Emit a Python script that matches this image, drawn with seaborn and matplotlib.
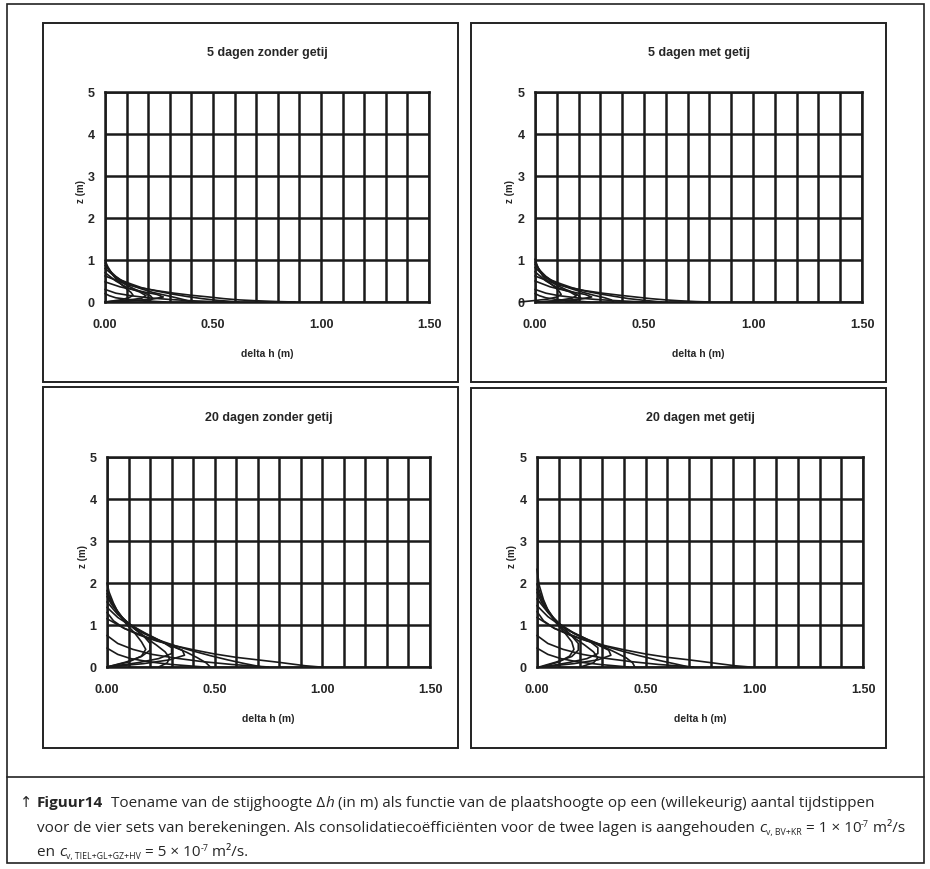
import numpy as np
import pandas as pd
import matplotlib
matplotlib.use("Agg")
import matplotlib.pyplot as plt
from matplotlib.patches import Rectangle
from matplotlib.lines import Line2D
import seaborn as sns

# panel titles
titles = ["5 dagen zonder getij", "5 dagen met getij", "20 dagen zonder getij", "20 dagen met getij"]

# isochrones: heights z (m) and head rise delta h (m), one list per curve
z_5_zonder = [
    [0, 0.01, 0.03, 0.05, 0.08, 0.12, 0.16, 0.21, 0.27, 0.34, 0.42, 0.52, 0.62],
    [0, 0.04, 0.08, 0.13, 0.19, 0.26, 0.34, 0.43, 0.53, 0.65, 0.8],
    [0, 0.05, 0.1, 0.16, 0.23, 0.31, 0.4, 0.5, 0.61, 0.73, 0.87],
    [0, 0.04, 0.09, 0.15, 0.22, 0.3, 0.4, 0.5, 0.62, 0.76, 0.93],
    [0, 0.05, 0.1, 0.16, 0.23, 0.31, 0.42, 0.55, 0.68, 0.84, 0.99],
    [0, 0.03, 0.06, 0.1, 0.15, 0.21, 0.3],
    [0, 0.03, 0.06, 0.1, 0.15, 0.2],
    [0, 0.04, 0.09, 0.15, 0.24, 0.35, 0.5, 0.7],
    [0, 0.03, 0.07, 0.12, 0.18, 0.26, 0.36, 0.48],
]
dh_5_zonder = [
    [0.88, 0.8, 0.7, 0.62, 0.55, 0.48, 0.4, 0.32, 0.24, 0.16, 0.1, 0.05, 0],
    [0.62, 0.52, 0.45, 0.38, 0.31, 0.24, 0.17, 0.12, 0.07, 0.035, 0],
    [0.4, 0.37, 0.33, 0.28, 0.22, 0.17, 0.12, 0.08, 0.05, 0.025, 0],
    [0.18, 0.21, 0.22, 0.21, 0.18, 0.14, 0.1, 0.07, 0.04, 0.02, 0],
    [0, 0.07, 0.11, 0.13, 0.12, 0.1, 0.075, 0.05, 0.032, 0.013, 0],
    [0.55, 0.4, 0.3, 0.2, 0.12, 0.05, 0],
    [0.28, 0.18, 0.11, 0.05, 0.02, 0],
    [0, 0.1, 0.17, 0.19, 0.16, 0.1, 0.05, 0],
    [0, 0.12, 0.22, 0.27, 0.24, 0.16, 0.07, 0],
]

z_5_met = [
    [0, 0.01, 0.03, 0.05, 0.08, 0.12, 0.16, 0.21, 0.27, 0.34, 0.42, 0.52, 0.62],
    [0, 0.04, 0.08, 0.13, 0.19, 0.26, 0.34, 0.43, 0.53, 0.65, 0.82],
    [0, 0.05, 0.1, 0.16, 0.23, 0.31, 0.4, 0.5, 0.61, 0.74, 0.9],
    [0, 0.04, 0.09, 0.15, 0.22, 0.3, 0.4, 0.5, 0.62, 0.77, 0.95],
    [0, 0.03, 0.07, 0.12, 0.18, 0.26, 0.36, 0.48, 0.62, 0.8, 1.02],
    [0, 0.03, 0.06, 0.1, 0.15, 0.21, 0.3],
    [0, 0.03, 0.06, 0.1, 0.15, 0.2],
    [0, 0.04, 0.09, 0.15, 0.24, 0.35, 0.5, 0.72],
    [0, 0.03, 0.07, 0.12, 0.18, 0.26, 0.36, 0.5],
]
dh_5_met = [
    [0.8, 0.74, 0.66, 0.6, 0.53, 0.46, 0.39, 0.31, 0.23, 0.16, 0.1, 0.05, 0],
    [0.58, 0.5, 0.43, 0.37, 0.3, 0.23, 0.17, 0.12, 0.07, 0.035, 0],
    [0.36, 0.35, 0.32, 0.27, 0.22, 0.17, 0.12, 0.08, 0.05, 0.025, 0],
    [0.14, 0.19, 0.21, 0.2, 0.18, 0.14, 0.1, 0.07, 0.04, 0.02, 0],
    [-0.07, -0.01, 0.06, 0.1, 0.12, 0.11, 0.09, 0.06, 0.035, 0.015, 0],
    [0.5, 0.38, 0.28, 0.19, 0.11, 0.05, 0],
    [0.25, 0.17, 0.1, 0.05, 0.02, 0],
    [0.02, 0.11, 0.17, 0.19, 0.16, 0.1, 0.05, 0],
    [0.01, 0.12, 0.21, 0.26, 0.23, 0.15, 0.07, 0],
]

z_20_zonder = [
    [0, 0.03, 0.07, 0.11, 0.17, 0.23, 0.31, 0.4, 0.5, 0.62, 0.76, 0.92, 1.1, 1.3],
    [0, 0.08, 0.17, 0.27, 0.38, 0.5, 0.64, 0.8, 0.98, 1.18, 1.42],
    [0, 0.1, 0.22, 0.35, 0.5, 0.66, 0.84, 1.04, 1.26, 1.5, 1.68],
    [0, 0.1, 0.22, 0.36, 0.52, 0.7, 0.9, 1.12, 1.36, 1.6, 1.82],
    [0, 0.12, 0.26, 0.42, 0.6, 0.8, 1.02, 1.26, 1.52, 1.78, 2.0],
    [0, 0.06, 0.13, 0.21, 0.3, 0.42, 0.56, 0.75],
    [0, 0.06, 0.12, 0.2, 0.3, 0.45],
    [0, 0.1, 0.2, 0.32, 0.46, 0.62, 0.8, 1.0, 1.25, 1.55],
    [0, 0.12, 0.25, 0.4, 0.56, 0.74, 0.94, 1.18, 1.45, 1.75],
    [0, 0.08, 0.17, 0.28, 0.4, 0.55, 0.72, 0.92, 1.15],
]
dh_20_zonder = [
    [0.99, 0.92, 0.86, 0.8, 0.7, 0.6, 0.5, 0.41, 0.32, 0.23, 0.15, 0.08, 0.03, 0],
    [0.72, 0.64, 0.56, 0.48, 0.4, 0.32, 0.24, 0.17, 0.11, 0.05, 0],
    [0.48, 0.46, 0.42, 0.37, 0.3, 0.23, 0.16, 0.1, 0.055, 0.02, 0],
    [0.24, 0.28, 0.29, 0.27, 0.23, 0.18, 0.13, 0.08, 0.045, 0.018, 0],
    [0, 0.1, 0.16, 0.18, 0.16, 0.13, 0.09, 0.055, 0.03, 0.01, 0],
    [0.75, 0.58, 0.44, 0.32, 0.21, 0.12, 0.05, 0],
    [0.45, 0.3, 0.2, 0.11, 0.05, 0],
    [0, 0.14, 0.24, 0.3, 0.3, 0.25, 0.18, 0.11, 0.05, 0],
    [0, 0.09, 0.16, 0.2, 0.2, 0.17, 0.12, 0.07, 0.03, 0],
    [0, 0.17, 0.29, 0.36, 0.35, 0.28, 0.18, 0.08, 0],
]

z_20_met = [
    [0, 0.03, 0.07, 0.11, 0.17, 0.23, 0.31, 0.4, 0.5, 0.62, 0.76, 0.92, 1.1, 1.32],
    [0, 0.08, 0.17, 0.27, 0.38, 0.5, 0.64, 0.8, 0.98, 1.2, 1.46],
    [0, 0.1, 0.22, 0.35, 0.5, 0.66, 0.84, 1.04, 1.28, 1.55, 1.78],
    [0, 0.1, 0.22, 0.36, 0.52, 0.7, 0.9, 1.14, 1.4, 1.7, 1.98],
    [0, 0.12, 0.26, 0.42, 0.6, 0.8, 1.04, 1.3, 1.6, 1.95, 2.33],
    [0, 0.06, 0.13, 0.21, 0.3, 0.42, 0.56, 0.75],
    [0, 0.06, 0.12, 0.2, 0.3, 0.45],
    [0, 0.1, 0.2, 0.32, 0.46, 0.62, 0.8, 1.02, 1.3, 1.62],
    [0, 0.12, 0.25, 0.4, 0.56, 0.74, 0.95, 1.2, 1.5, 1.85],
    [0, 0.08, 0.17, 0.28, 0.4, 0.55, 0.72, 0.92, 1.18],
]
dh_20_met = [
    [0.98, 0.91, 0.85, 0.79, 0.7, 0.6, 0.5, 0.41, 0.32, 0.23, 0.15, 0.08, 0.03, 0],
    [0.7, 0.63, 0.55, 0.47, 0.39, 0.31, 0.24, 0.17, 0.11, 0.05, 0],
    [0.45, 0.44, 0.41, 0.36, 0.3, 0.23, 0.16, 0.1, 0.055, 0.02, 0],
    [0.2, 0.26, 0.28, 0.26, 0.22, 0.17, 0.12, 0.08, 0.045, 0.018, 0],
    [0.02, 0.1, 0.15, 0.17, 0.16, 0.13, 0.09, 0.055, 0.03, 0.01, 0],
    [0.72, 0.56, 0.43, 0.31, 0.21, 0.12, 0.05, 0],
    [0.42, 0.29, 0.19, 0.11, 0.05, 0],
    [0.03, 0.14, 0.23, 0.28, 0.28, 0.24, 0.17, 0.1, 0.05, 0],
    [0.01, 0.09, 0.16, 0.19, 0.19, 0.16, 0.12, 0.07, 0.03, 0],
    [0.02, 0.17, 0.28, 0.34, 0.33, 0.27, 0.18, 0.08, 0],
]

x_ticks = [0.0, 0.5, 1.0, 1.5]
x_ticklabels = ["0.00", "0.50", "1.00", "1.50"]
z_ticks = [0, 1, 2, 3, 4, 5]

panels = [
    (titles[0], z_5_zonder, dh_5_zonder),
    (titles[1], z_5_met, dh_5_met),
    (titles[2], z_20_zonder, dh_20_zonder),
    (titles[3], z_20_met, dh_20_met),
]

sns.set_style("white")
plt.rcParams["font.family"] = ["Liberation Sans", "DejaVu Sans"]

W, H = 930, 870
fig = plt.figure(figsize=(W / 100, H / 100), dpi=100)


def px_rect(x0, y0, x1, y1):
    return [x0 / W, 1 - y1 / H, (x1 - x0) / W, (y1 - y0) / H]


# outer frame, caption separator and panel boxes
fig.patches.append(Rectangle((7 / W, 1 - 864 / H), 917 / W, 859 / H, transform=fig.transFigure,
                             fill=False, ec="#222222", lw=1.2))
fig.lines.append(Line2D([7 / W, 924 / W], [1 - 778 / H] * 2, transform=fig.transFigure, color="#222222", lw=1.2))
boxes = [(43, 24, 458, 383), (471, 24, 886, 383), (43, 388, 458, 749), (471, 389, 886, 749)]
for b in boxes:
    r = px_rect(*b)
    fig.patches.append(Rectangle((r[0], r[1]), r[2], r[3], transform=fig.transFigure,
                                 fill=False, ec="#222222", lw=1.4))

axes_px = [(105, 93, 429, 303), (535, 93, 862, 303), (107, 458, 430, 668), (537, 458, 863, 668)]

for (title, zs, dhs), apx in zip(panels, axes_px):
    ax = fig.add_axes(px_rect(*apx))
    rows = []
    for i, (zc, dc) in enumerate(zip(zs, dhs)):
        for zv, dv in zip(zc, dc):
            rows.append({"curve": i, "z": zv, "dh": dv})
    df = pd.DataFrame(rows)
    sns.lineplot(data=df, x="dh", y="z", units="curve", estimator=None, sort=False,
                 color="#1a1a1a", linewidth=1.2, ax=ax, legend=False)
    for ln in ax.lines:
        ln.set_clip_on(False)

    ax.set_xlim(0, 1.5)
    ax.set_ylim(0, 5)
    ax.set_xticks(x_ticks)
    ax.set_xticklabels(x_ticklabels)
    ax.set_xticks(np.arange(0, 1.51, 0.1), minor=True)
    ax.set_yticks(z_ticks)
    ax.grid(True, which="both", axis="x", color="#1a1a1a", lw=1.8)
    ax.grid(True, which="major", axis="y", color="#1a1a1a", lw=1.8)
    ax.tick_params(which="major", direction="inout", length=7, width=1.2, color="#1a1a1a",
                   labelsize=9, pad=8)
    ax.tick_params(axis="y", pad=4)
    ax.tick_params(which="minor", length=0)
    for lab in ax.get_xticklabels() + ax.get_yticklabels():
        lab.set_fontweight("bold")
    for s in ax.spines.values():
        s.set_color("#1a1a1a")
        s.set_linewidth(1.8)

    ax.set_xlabel("delta h (m)", fontsize=7.5, fontweight="bold", labelpad=13)
    ax.set_ylabel("z (m)", fontsize=7, fontweight="bold")
    ax.yaxis.set_label_coords(-0.06, 0.53)
    ax.text(0.5, 1.19, title, transform=ax.transAxes, ha="center", va="center",
            fontsize=9, fontweight="bold")

# caption, written as runs of text placed one after another
cap_font = ["Open Sans", "DejaVu Sans"]
cap_size = 10.95
sub_size = 6.3
renderer = fig.canvas.get_renderer()


def write_runs(x, y, parts):
    for txt, kw, dy in parts:
        opts = dict(family=cap_font, fontsize=cap_size, va="baseline")
        opts.update(kw)
        t = fig.text(x / W, 1 - (y - dy) / H, txt, **opts)
        x = t.get_window_extent(renderer).x1


write_runs(20, 807, [
    ("↑ ", dict(family=["DejaVu Sans"], fontsize=10.5), 0),
    ("Figuur14", dict(fontweight="bold"), 0),
    ("  Toename van de stijghoogte Δ", {}, 0),
    ("h", dict(style="italic"), 0),
    (" (in m) als functie van de plaatshoogte op een (willekeurig) aantal tijdstippen", {}, 0),
])
write_runs(37, 832, [
    ("voor de vier sets van berekeningen. Als consolidatiecoëfficiënten voor de twee lagen is aangehouden ", {}, 0),
    ("c", dict(style="italic"), 0),
    ("v, BV+KR", dict(fontsize=sub_size), -3),
    (" = 1 × 10", {}, 0),
    ("-7", dict(fontsize=sub_size), 5),
    (" m²/s", {}, 0),
])
write_runs(37, 856, [
    ("en ", {}, 0),
    ("c", dict(style="italic"), 0),
    ("v, TIEL+GL+GZ+HV", dict(fontsize=sub_size), -3),
    (" = 5 × 10", {}, 0),
    ("-7", dict(fontsize=sub_size), 5),
    (" m²/s.", {}, 0),
])

fig.savefig("out.png", dpi=100)
